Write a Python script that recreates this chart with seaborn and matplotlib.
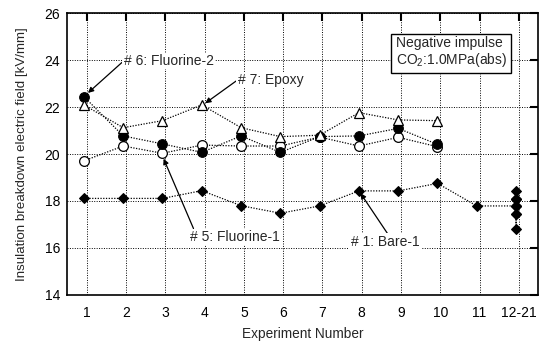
import matplotlib
matplotlib.use("Agg")
import matplotlib.pyplot as plt
import seaborn as sns
import numpy as np
import pandas as pd

# ---- data ----
exp_labels = ["1", "2", "3", "4", "5", "6", "7", "8", "9", "10", "11", "12-21"]
exp_main = [1, 2, 3, 4, 5, 6, 7, 8, 9, 10]
fluorine1 = [19.71, 20.34, 20.03, 20.38, 20.34, 20.34, 20.72, 20.34, 20.71, 20.31]
fluorine2 = [22.44, 20.77, 20.43, 20.07, 20.77, 20.07, 20.74, 20.77, 21.09, 20.41]
epoxy = [22.09, 21.12, 21.42, 22.09, 21.12, 20.74, 20.80, 21.76, 21.45, 21.42]
bare_x = [1, 2, 3, 4, 5, 6, 7, 8, 9, 10, 11, 12, 12, 12, 12, 12, 12, 12, 12, 12, 12]
bare1 = [18.11, 18.11, 18.11, 18.44, 17.80, 17.48, 17.79, 18.43, 18.43, 18.75, 17.79,
         17.79, 18.09, 18.43, 18.09, 17.79, 17.45, 16.79, 17.45, 17.79, 18.09]
y_ticks = [14, 16, 18, 20, 22, 24, 26]

sns.set_theme(style="white")
plt.rcParams['font.family'] = ['Liberation Sans', 'DejaVu Sans']
plt.rcParams['mathtext.fontset'] = 'custom'
plt.rcParams['mathtext.rm'] = 'Liberation Sans'

fig = plt.figure(figsize=(5.45, 3.43), dpi=100)
ax = fig.add_axes([0.123, 0.140, 0.865, 0.822])

off = -0.07
ls = (0, (1, 1.2))
lw = 0.9

sns.lineplot(x=np.array(bare_x) + off, y=bare1, ax=ax, sort=False, estimator=None,
             color="black", linestyle=ls, linewidth=lw, marker="D", markersize=5.5,
             markerfacecolor="black", markeredgecolor="black", zorder=3)
sns.lineplot(x=np.array(exp_main) + off, y=fluorine1, ax=ax, sort=False, estimator=None,
             color="black", linestyle=ls, linewidth=lw, marker="o", markersize=7,
             markerfacecolor="white", markeredgecolor="black", markeredgewidth=0.9, zorder=3)
sns.lineplot(x=np.array(exp_main) + off, y=fluorine2, ax=ax, sort=False, estimator=None,
             color="black", linestyle=ls, linewidth=lw, marker="o", markersize=7,
             markerfacecolor="black", markeredgecolor="black", zorder=4)
sns.lineplot(x=np.array(exp_main) + off, y=epoxy, ax=ax, sort=False, estimator=None,
             color="black", linestyle=ls, linewidth=lw, marker="^", markersize=7.5,
             markerfacecolor="white", markeredgecolor="black", markeredgewidth=0.9, zorder=5)

ax.set_xlim(0.5, 12.5)
ax.set_ylim(14, 26)
ax.set_xticks(range(1, 13))
ax.set_xticklabels(exp_labels)
ax.set_yticks(y_ticks)
ax.grid(True, color="black", linestyle=(0, (1, 1.5)), linewidth=0.7)
ax.set_axisbelow(True)
for s in ax.spines.values():
    s.set_color("black")
    s.set_linewidth(1.2)
ax.tick_params(axis="both", direction="in", length=6, width=1.5, top=True, right=True,
               labelsize=10, colors="black", pad=5)
ax.tick_params(axis="x", pad=8)
ax.set_xlabel("Experiment Number", fontsize=9.8, labelpad=5)
ax.set_ylabel("Insulation breakdown electric field [kV/mm]", fontsize=9.6, labelpad=12)

ann_kw = dict(fontsize=10, ha="left", va="center",
              bbox=dict(boxstyle="square,pad=0.1", fc="white", ec="none"))
ax.annotate("# 6: Fluorine-2", xy=(1 + off + 0.05, fluorine2[0] + 0.08), xytext=(1.94, 23.96),
            arrowprops=dict(arrowstyle="-|>", color="black", lw=0.9, relpos=(0, 0.5),
                            shrinkA=0, shrinkB=2, mutation_scale=8), **ann_kw)
ax.annotate("# 7: Epoxy", xy=(4 + off + 0.03, epoxy[3]), xytext=(4.84, 23.15),
            arrowprops=dict(arrowstyle="-|>", color="black", lw=0.9, relpos=(0, 0.5),
                            shrinkA=0, shrinkB=2, mutation_scale=8), **ann_kw)
ax.annotate("# 5: Fluorine-1", xy=(3 + off, fluorine1[2] - 0.12), xytext=(3.62, 16.47),
            arrowprops=dict(arrowstyle="-|>", color="black", lw=0.9, relpos=(0.05, 1),
                            shrinkA=0, shrinkB=2, mutation_scale=8), **ann_kw)
ax.annotate("# 1: Bare-1", xy=(8 + off, bare1[7]), xytext=(7.72, 16.26),
            arrowprops=dict(arrowstyle="-|>", color="black", lw=0.9, relpos=(0.55, 1),
                            shrinkA=0, shrinkB=2, mutation_scale=8), **ann_kw)

ax.text(0.697, 0.918, "Negative impulse\nCO$_2$:1.0MPa(abs)", transform=ax.transAxes,
        ha="left", va="top", fontsize=10, linespacing=1.05, zorder=6,
        bbox=dict(boxstyle="square,pad=0.3", fc="white", ec="black", lw=1.0))

fig.savefig("out.png", dpi=100)
